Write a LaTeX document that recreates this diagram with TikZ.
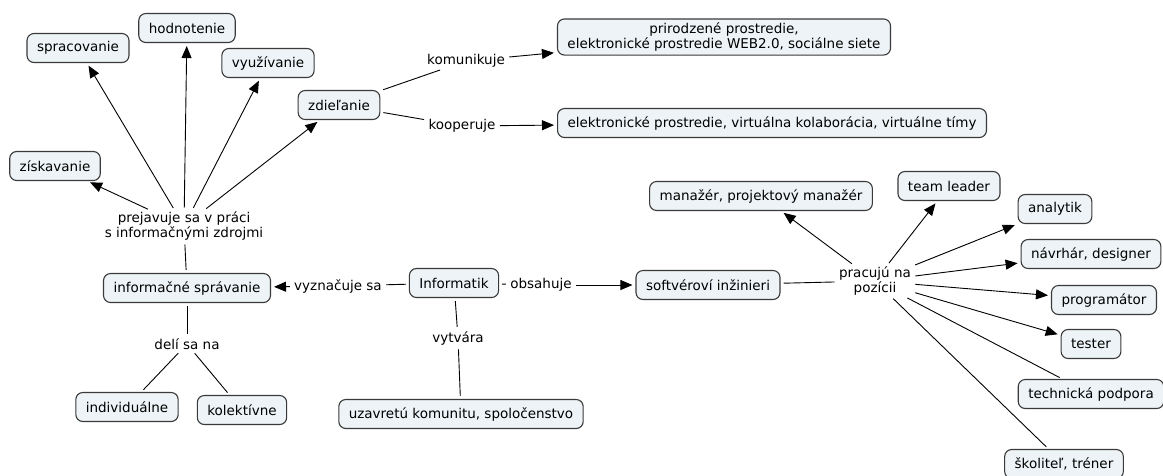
\documentclass[tikz,border=0pt]{standalone}
\usepackage{fontspec}
\setmainfont{DejaVu Sans}
\usepackage{tikz}
\usetikzlibrary{arrows.meta,positioning}
\definecolor{boxfill}{RGB}{237,243,246}
\definecolor{boxline}{RGB}{58,58,58}

\begin{document}
\begin{tikzpicture}[
    x = 1pt, y = -1pt, % pixel units, y pointing down
    > = {Triangle[length=12pt,width=10pt]}, % arrow head style
    shorten > = 3pt, % don't touch arrow head to node
    shorten < = 3pt,
    line width = 0.9pt, % line style
    font = \fontsize{13.5}{14.5}\selectfont
    ]

    \tikzset{concept/.style={
    draw = boxline,
    line width = 1.1pt,
    fill = boxfill,
    rounded corners = 7pt,
    inner xsep = 10pt,
    inner ysep = 4pt,
    minimum height = 29pt,
    align = center
    },
    phrase/.style={inner sep = 1pt, align = center}}

    \useasboundingbox (0,0) rectangle (1163,475);

    % left part
    \node[concept] (sprac) at (78,48) {spracovanie};
    \node[concept] (hodnot) at (187,28) {hodnotenie};
    \node[concept] (vyuziv) at (268,63) {využívanie};
    \node[concept] (zdiel) at (339,105) {zdieľanie};
    \node[concept] (ziskav) at (55,166) {získavanie};
    \node[phrase] (prejav) at (184,226) {prejavuje sa v práci\\s informačnými zdrojmi};
    \node[concept] (infsprav) at (187,288) {informačné správanie};
    \node[phrase] (deli) at (187,344) {delí sa na};
    \node[concept] (indiv) at (127,407) {individuálne};
    \node[concept] (kolekt) at (242,410) {kolektívne};

    % middle
    \node[phrase] (vyzn) at (338,286) {vyznačuje sa};
    \node[concept] (informatik) at (454,283) {Informatik};
    \node[phrase] (obsah) at (541,285) {obsahuje};
    \node[phrase] (vytv) at (458,338) {vytvára};
    \node[concept] (uzavr) at (461,414) {uzavretú komunitu, spoločenstvo};

    % top right
    \node[phrase] (komun) at (466,61) {komunikuje};
    \node[phrase] (koop) at (462,126) {kooperuje};
    \node[concept] (prostr1) at (724,37) {prirodzené prostredie,\\elektronické prostredie WEB2.0, sociálne siete};
    \node[concept] (prostr2) at (772,123) {elektronické prostredie, virtuálna kolaborácia, virtuálne tímy};

    % right part
    \node[concept] (softing) at (708,285) {softvéroví inžinieri};
    \node[phrase] (pracuju) at (875,281) {pracujú na\\pozícii};
    \node[concept] (manazer) at (761,196) {manažér, projektový manažér};
    \node[concept] (teamlead) at (949,186) {team leader};
    \node[concept] (analytik) at (1055,209) {analytik};
    \node[concept] (navrhar) at (1091,254) {návrhár, designer};
    \node[concept] (program) at (1104,300) {programátor};
    \node[concept] (tester) at (1091,344) {tester};
    \node[concept] (techpod) at (1091,394) {technická podpora};
    \node[concept] (skolitel) at (1064,464) {školiteľ, tréner};

    \foreach \t in {ziskav,sprac,hodnot,vyuziv,zdiel}
        \draw[->] (prejav) -- (\t);
    \draw (prejav) -- (infsprav);
    \draw (infsprav) -- (deli);
    \draw (deli) -- (indiv);
    \draw (deli) -- (kolekt);

    \draw (zdiel) -- (komun);
    \draw[->] (komun) -- (prostr1);
    \draw (zdiel) -- (koop);
    \draw[->] (koop) -- (prostr2);

    \draw (informatik) -- (vyzn);
    \draw[->] (vyzn) -- (infsprav);
    \draw (informatik) -- (obsah);
    \draw[->] (obsah) -- (softing);
    \draw (informatik) -- (vytv);
    \draw (vytv) -- (uzavr);

    \draw (softing) -- (pracuju);
    \foreach \t in {manazer,teamlead,analytik,navrhar,program,tester}
        \draw[->] (pracuju) -- (\t);
    \draw (pracuju) -- (techpod);
    \draw (pracuju) -- (skolitel);
\end{tikzpicture}
\end{document}
